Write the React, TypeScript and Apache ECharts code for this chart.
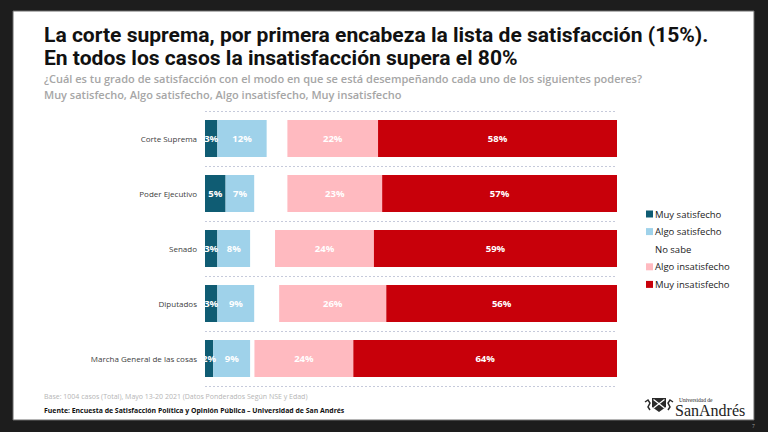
import React, { useEffect, useRef } from "react";
import * as echarts from "echarts";

const categories = [
  "Corte Suprema",
  "Poder Ejecutivo",
  "Senado",
  "Diputados",
  "Marcha General de las cosas",
];
const seriesNames = [
  "Muy satisfecho",
  "Algo satisfecho",
  "No sabe",
  "Algo insatisfecho",
  "Muy insatisfecho",
];
const muySatisfecho = [3, 5, 3, 3, 2];
const algoSatisfecho = [12, 7, 8, 9, 9];
const noSabe = [5, 8, 6, 6, 1];
const algoInsatisfecho = [22, 23, 24, 26, 24];
const muyInsatisfecho = [58, 57, 59, 56, 64];
const seriesValues = [muySatisfecho, algoSatisfecho, noSabe, algoInsatisfecho, muyInsatisfecho];
const seriesColors = ["#0f5c73", "#9fd2ea", "#ffffff", "#ffbac0", "#c8000a"];

const titleLines = [
  "La corte suprema, por primera encabeza la lista de satisfacción (15%).",
  "En todos los casos la insatisfacción supera el 80%",
];
const subtitleLines = [
  "¿Cuál es tu grado de satisfacción con el modo en que se está desempeñando cada uno de los siguientes poderes?",
  "Muy satisfecho, Algo satisfecho, Algo insatisfecho, Muy insatisfecho",
];
const baseNote = "Base: 1004 casos (Total), Mayo 13-20 2021 (Datos Ponderados Según NSE y Edad)";
const sourceNote = "Fuente: Encuesta de Satisfacción Política y Opinión Pública – Universidad de San Andrés";

const FONT = "'Open Sans', 'Noto Sans', sans-serif";
const TITLE_FONT = "Roboto, 'Open Sans', sans-serif";
const SERIF = "'Liberation Serif', 'DejaVu Serif', serif";

function fitFontSize(text: string, family: string, weight: string, targetWidth: number, fallback: number) {
  try {
    const ctx = document.createElement("canvas").getContext("2d");
    if (!ctx) return fallback;
    ctx.font = `${weight} 100px ${family}`;
    const w = ctx.measureText(text).width;
    if (!w) return fallback;
    return Math.min(22, Math.max(14, (100 * targetWidth) / w));
  } catch (e) {
    return fallback;
  }
}

export default function App() {
  const ref = useRef<HTMLDivElement>(null);
  useEffect(() => {
    if (!ref.current) return;
    const chart = echarts.init(ref.current, undefined, { renderer: "svg" });
    const titleSize = fitFontSize(titleLines[0], TITLE_FONT, "bold", 665, 19);
    const series = seriesNames.map((name, i) => ({
      name,
      type: "bar",
      stack: "total",
      barWidth: 37,
      data: seriesValues[i],
      itemStyle: { color: seriesColors[i] },
      label: {
        show: name !== "No sabe",
        position: "inside",
        formatter: "{c}%",
        color: "#ffffff",
        fontFamily: FONT,
        fontWeight: "bold",
        fontSize: 9.5,
      },
      emphasis: { disabled: true },
    }));
    const textEl = (x: number, y: number, text: string, style: any) => ({
      type: "text",
      x,
      y,
      silent: true,
      style: { text, fontFamily: FONT, verticalAlign: "middle", ...style },
    });
    chart.setOption({
      animation: false,
      backgroundColor: "#1d1d1d",
      textStyle: { fontFamily: FONT },
      grid: { left: 205, right: 151, top: 111, bottom: 46, containLabel: false },
      xAxis: { type: "value", min: 0, max: 100, show: false },
      yAxis: {
        type: "category",
        inverse: true,
        data: categories,
        axisLine: { show: false },
        axisTick: { show: false },
        axisLabel: { color: "#404040", fontSize: 8, margin: 8, fontFamily: FONT },
        splitLine: {
          show: true,
          lineStyle: { color: "#c6cadb", type: [2, 2], width: 1 },
        },
      },
      legend: {
        orient: "vertical",
        left: 641,
        top: 203,
        itemWidth: 7,
        itemHeight: 7,
        itemGap: 5.6,
        icon: "rect",
        data: seriesNames,
        textStyle: { color: "#222222", fontSize: 9.5, lineHeight: 12, fontFamily: FONT, padding: [0, 0, 0, -3] },
        selectedMode: false,
      },
      series,
      graphic: {
        elements: [
          {
            type: "rect",
            z: -100,
            silent: true,
            shape: { x: 13, y: 11, width: 741, height: 409 },
            style: { fill: "#ffffff", stroke: "#6a6a6a", lineWidth: 1 },
          },
          textEl(44, 34, titleLines[0], { fontSize: titleSize, lineHeight: 21, fontWeight: "bold", fontFamily: TITLE_FONT, fill: "#111111" }),
          textEl(44, 57.4, titleLines[1], { fontSize: titleSize, lineHeight: 21, fontWeight: "bold", fontFamily: TITLE_FONT, fill: "#111111" }),
          textEl(44, 78.5, subtitleLines[0], { fontSize: 11, lineHeight: 14, fontWeight: 600, fill: "#a6a6a6" }),
          textEl(44, 94.5, subtitleLines[1], { fontSize: 11, lineHeight: 14, fontWeight: 600, fill: "#a6a6a6" }),
          textEl(44, 396, baseNote, { fontSize: 7, fill: "#b5b5b5" }),
          textEl(44, 410, sourceNote, { fontSize: 6.9, fontWeight: 700, fill: "#111111" }),
          // logo crest
          {
            type: "polygon",
            silent: true,
            shape: { points: [[652, 398], [666, 398], [666, 407], [659, 412], [652, 407]] },
            style: { fill: "#2a2a2a" },
          },
          { type: "line", silent: true, shape: { x1: 653.5, y1: 399.5, x2: 664.5, y2: 408 }, style: { stroke: "#ffffff", lineWidth: 1.3 } },
          { type: "line", silent: true, shape: { x1: 664.5, y1: 399.5, x2: 653.5, y2: 408 }, style: { stroke: "#ffffff", lineWidth: 1.3 } },
          {
            type: "polyline",
            silent: true,
            shape: { points: [[645, 402], [648, 400], [650, 403], [648, 407], [650, 410]] },
            style: { stroke: "#2a2a2a", lineWidth: 1.5, fill: "none" },
          },
          {
            type: "polyline",
            silent: true,
            shape: { points: [[673, 402], [670, 400], [668, 403], [670, 407], [668, 410]] },
            style: { stroke: "#2a2a2a", lineWidth: 1.5, fill: "none" },
          },
          textEl(679, 400, "Universidad de", { fontSize: 5.5, fontFamily: SERIF, fill: "#222222" }),
          textEl(675, 410, "SanAndrés", { fontSize: 16, fontFamily: SERIF, fill: "#222222" }),
          textEl(752, 426, "7", { fontSize: 5, fill: "#9a9a9a" }),
        ],
      },
    });
    return () => chart.dispose();
  }, []);
  return (
    <div
      ref={ref}
      style={{ position: "fixed", left: 0, top: 0, width: 768, height: 432 }}
    />
  );
}
